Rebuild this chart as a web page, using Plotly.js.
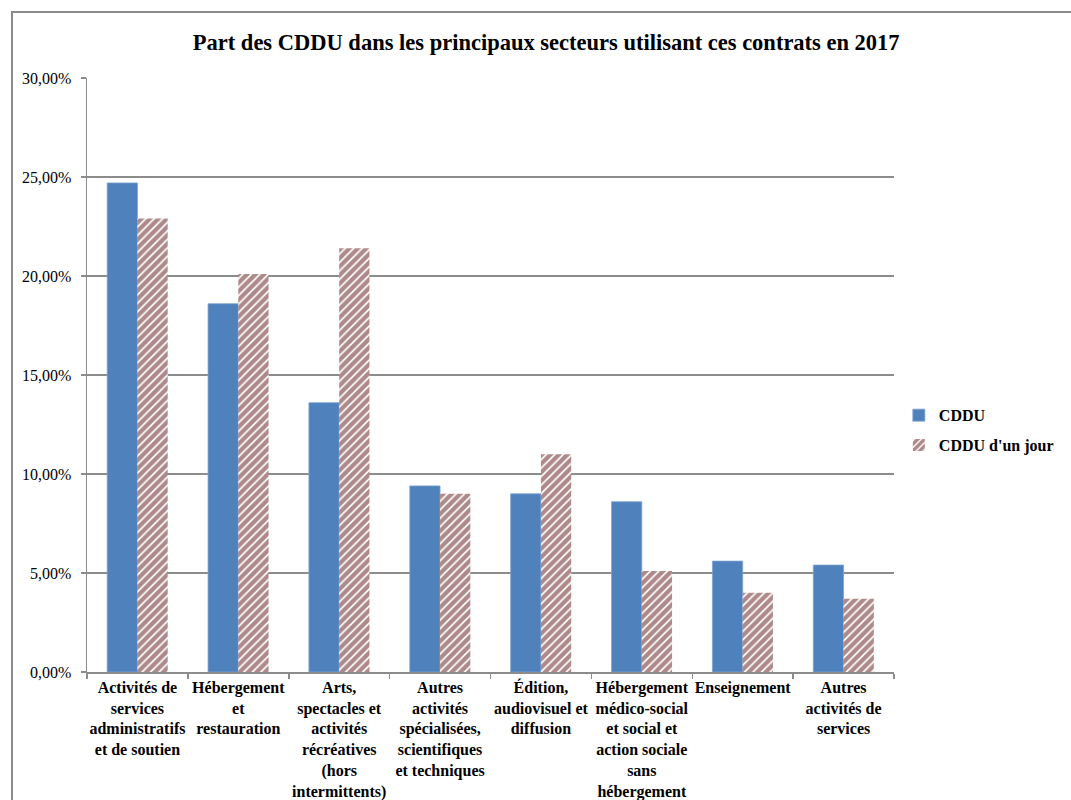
<!DOCTYPE html>
<html>
<head>
<meta charset="utf-8">
<script src="https://cdn.plot.ly/plotly-3.0.1.min.js"></script>
<style>
  html, body { margin: 0; padding: 0; background: #fff; }
  #chart { width: 1071px; height: 800px; }
  #frame { position: absolute; left: 11px; top: 11px; width: 1100px; height: 900px;
           border-left: 2px solid #8c8c8c; border-top: 2px solid #8c8c8c; pointer-events: none; }
</style>
</head>
<body>
<div id="chart"></div>
<div id="frame"></div>
<script>
const categories = [
  "Activités de<br>services<br>administratifs<br>et de soutien",
  "Hébergement<br>et<br>restauration",
  "Arts,<br>spectacles et<br>activités<br>récréatives<br>(hors<br>intermittents)",
  "Autres<br>activités<br>spécialisées,<br>scientifiques<br>et techniques",
  "Édition,<br>audiovisuel et<br>diffusion",
  "Hébergement<br>médico-social<br>et social et<br>action sociale<br>sans<br>hébergement",
  "Enseignement",
  "Autres<br>activités de<br>services"
];
const cddu = [24.7, 18.6, 13.6, 9.4, 9.0, 8.6, 5.6, 5.4];
const cdduUnJour = [22.9, 20.1, 21.4, 9.0, 11.0, 5.1, 4.0, 3.7];
const seriesNames = ["CDDU", "CDDU d'un jour"];
const yTicks = [0, 5, 10, 15, 20, 25, 30];
const yTickLabels = ["0,00%", "5,00%", "10,00%", "15,00%", "20,00%", "25,00%", "30,00%"];

const serif = "'Times New Roman', 'Liberation Serif', 'DejaVu Serif', serif";

const traces = [
  {
    type: "bar", name: seriesNames[0], x: categories, y: cddu,
    legendgroup: "a",
    marker: { color: "#4F81BD", line: { color: "#7FA2CF", width: 0.8 } },
    hoverinfo: "skip"
  },
  {
    type: "bar", name: seriesNames[1], x: categories, y: cdduUnJour,
    legendgroup: "b",
    marker: {
      color: "#ffffff",
      line: { width: 0 },
      pattern: { shape: "/", fgcolor: "#5C1414", bgcolor: "#ffffff", size: 6, solidity: 0.72, fillmode: "overlay" }
    },
    hoverinfo: "skip"
  }
];

const layout = {
  width: 1071, height: 800,
  margin: { l: 87, r: 174, t: 78, b: 128, pad: 0 },
  paper_bgcolor: "#ffffff", plot_bgcolor: "#ffffff",
  font: { family: serif, size: 16, color: "#000" },
  title: {
    text: "<b>Part des CDDU dans les principaux secteurs utilisant ces contrats en 2017</b>",
    font: { family: serif, size: 22.5, color: "#000" },
    xref: "container", x: 0.51, xanchor: "center",
    yref: "container", y: 0.947, yanchor: "middle"
  },
  barmode: "group", bargap: 0.4, bargroupgap: 0,
  xaxis: {
    type: "category",
    tickson: "boundaries",
    ticks: "outside", ticklen: 5, tickcolor: "#8c8c8c", tickwidth: 1.5,
    showline: true, linecolor: "#8c8c8c", linewidth: 1.5,
    showgrid: false, zeroline: false,
    tickangle: 0,
    tickfont: { family: serif, size: 16, color: "#000", weight: "bold" },
    fixedrange: true
  },
  yaxis: {
    range: [0, 30],
    tickmode: "array",
    tickvals: yTicks,
    ticktext: yTickLabels,
    ticks: "outside", ticklen: 5, tickcolor: "#8c8c8c", tickwidth: 1.5,
    showline: true, linecolor: "#8c8c8c", linewidth: 1.5,
    showgrid: true, gridcolor: "#8c8c8c", gridwidth: 1.5,
    zeroline: false,
    tickfont: { family: serif, size: 16, color: "#000" },
    ticklabelstandoff: 6,
    fixedrange: true
  },
  legend: {
    x: 1.006, xanchor: "left", y: 0.407, yanchor: "middle",
    font: { family: serif, size: 16, color: "#000", weight: "bold" },
    bgcolor: "rgba(0,0,0,0)", borderwidth: 0,
    tracegroupgap: 6
  },
  showlegend: true
};

Plotly.newPlot("chart", traces, layout, { displayModeBar: false, staticPlot: true });
</script>
</body>
</html>
